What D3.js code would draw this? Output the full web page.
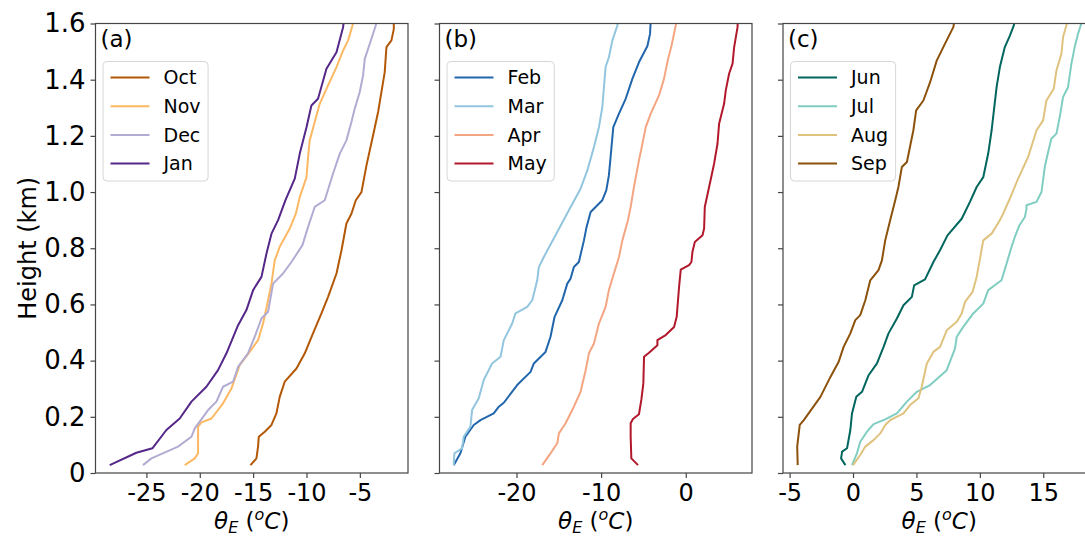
<!DOCTYPE html>
<html>
<head>
<meta charset="utf-8">
<script src="https://cdn.jsdelivr.net/npm/d3@7"></script>
<style>
  body { margin: 0; background: #fff; }
  text { font-family: 'DejaVu Sans', sans-serif; fill: #000; }
</style>
</head>
<body>
<div id="chart"></div>
<script>
// theta_E (degC) vs height (km)
const octProfile = [[-15.25,0.028],[-14.69,0.052],[-14.54,0.094],[-14.47,0.129],[-13.91,0.147],[-13.28,0.171],[-12.82,0.212],[-12.51,0.271],[-12.04,0.325],[-10.94,0.372],[-10.16,0.426],[-9.39,0.497],[-8.6,0.568],[-7.98,0.627],[-7.19,0.71],[-6.72,0.793],[-6.26,0.888],[-5.79,0.923],[-5.38,0.971],[-4.85,1.0],[-4.38,1.095],[-3.76,1.202],[-3.29,1.285],[-2.98,1.356],[-2.67,1.427],[-2.51,1.516],[-2.04,1.54],[-1.82,1.58],[-1.82,1.61]]
const novProfile = [[-21.41,0.028],[-20.47,0.052],[-20.16,0.07],[-20.16,0.165],[-19.84,0.18],[-18.9,0.194],[-17.82,0.248],[-17.03,0.301],[-16.26,0.384],[-15.32,0.431],[-14.54,0.473],[-14.07,0.532],[-13.6,0.615],[-13.28,0.674],[-12.98,0.757],[-12.51,0.805],[-11.57,0.87],[-11.0,0.923],[-10.63,0.982],[-10.0,1.053],[-9.85,1.125],[-9.7,1.184],[-9.23,1.249],[-8.76,1.314],[-7.98,1.38],[-7.19,1.445],[-6.57,1.504],[-6.1,1.54],[-5.69,1.593],[-5.6,1.61]]
const decProfile = [[-25.32,0.028],[-24.53,0.052],[-22.04,0.094],[-20.78,0.129],[-20.47,0.159],[-19.22,0.224],[-18.44,0.254],[-17.82,0.307],[-16.88,0.325],[-16.41,0.378],[-15.48,0.426],[-14.85,0.485],[-14.22,0.55],[-13.6,0.574],[-13.13,0.674],[-12.2,0.71],[-11.41,0.751],[-10.38,0.811],[-9.85,0.876],[-9.23,0.947],[-8.29,0.971],[-7.51,1.066],[-6.88,1.137],[-6.26,1.184],[-5.79,1.249],[-5.48,1.297],[-5.01,1.356],[-4.7,1.415],[-4.54,1.474],[-4.07,1.528],[-3.51,1.593],[-3.45,1.61]]
const janProfile = [[-28.44,0.028],[-25.94,0.072],[-24.44,0.088],[-23.13,0.153],[-21.88,0.194],[-20.78,0.254],[-19.38,0.307],[-18.29,0.366],[-17.5,0.426],[-16.41,0.526],[-15.63,0.58],[-15.0,0.651],[-14.22,0.698],[-13.75,0.781],[-13.28,0.852],[-12.66,0.9],[-11.97,0.971],[-11.1,1.048],[-10.63,1.137],[-10.0,1.231],[-9.54,1.308],[-8.92,1.332],[-8.13,1.439],[-7.19,1.498],[-6.57,1.587],[-6.5,1.61]]

const febProfile = [[-27.42,0.028],[-26.63,0.07],[-26.04,0.129],[-25.05,0.171],[-24.26,0.188],[-22.69,0.212],[-22.09,0.236],[-21.5,0.25],[-19.92,0.313],[-18.34,0.36],[-17.95,0.39],[-16.57,0.431],[-15.98,0.485],[-15.5,0.556],[-14.59,0.615],[-14.0,0.674],[-13.61,0.692],[-13.22,0.733],[-12.63,0.751],[-12.03,0.828],[-11.72,0.876],[-11.24,0.929],[-9.86,0.971],[-9.39,1.006],[-9.08,1.06],[-8.88,1.125],[-8.56,1.231],[-7.89,1.279],[-7.1,1.332],[-6.31,1.403],[-5.53,1.462],[-4.53,1.52],[-4.22,1.563],[-4.14,1.61]]
const marProfile = [[-27.42,0.028],[-27.34,0.07],[-26.43,0.088],[-26.24,0.129],[-25.44,0.165],[-25.25,0.224],[-24.46,0.266],[-23.87,0.331],[-22.88,0.39],[-21.89,0.414],[-21.5,0.473],[-20.51,0.532],[-20.12,0.568],[-18.73,0.591],[-18.14,0.615],[-17.55,0.686],[-17.36,0.733],[-16.77,0.769],[-15.5,0.84],[-13.81,0.935],[-12.43,1.012],[-11.63,1.077],[-10.85,1.16],[-10.26,1.231],[-9.86,1.302],[-9.67,1.373],[-9.47,1.445],[-9.08,1.48],[-8.67,1.54],[-8.08,1.593],[-8.0,1.61]]
const aprProfile = [[-16.96,0.028],[-15.98,0.07],[-15.18,0.106],[-14.99,0.141],[-14.2,0.177],[-13.22,0.236],[-12.43,0.289],[-11.83,0.366],[-11.44,0.426],[-10.85,0.461],[-10.26,0.532],[-9.47,0.591],[-9.08,0.651],[-8.49,0.71],[-7.89,0.769],[-7.49,0.828],[-6.83,0.9],[-6.51,0.947],[-6.12,1.018],[-5.53,1.113],[-5.12,1.172],[-4.73,1.231],[-4.14,1.279],[-3.16,1.344],[-2.57,1.403],[-2.09,1.474],[-1.69,1.52],[-1.18,1.593],[-1.1,1.61]]
const mayProfile = [[-5.64,0.028],[-6.43,0.052],[-6.51,0.129],[-6.51,0.177],[-6.24,0.192],[-5.53,0.209],[-5.25,0.26],[-5.01,0.319],[-4.93,0.414],[-4.34,0.428],[-3.35,0.455],[-3.35,0.473],[-2.37,0.491],[-1.38,0.52],[-1.07,0.556],[-0.79,0.662],[-0.59,0.724],[0.39,0.74],[0.67,0.751],[0.79,0.787],[1.07,0.822],[1.98,0.846],[2.17,0.87],[2.25,0.947],[2.76,1.018],[3.35,1.101],[3.75,1.172],[3.94,1.243],[4.53,1.314],[4.73,1.362],[5.12,1.421],[5.53,1.457],[5.72,1.516],[6.12,1.587],[6.15,1.61]]

const junProfile = [[-0.6,0.028],[-0.94,0.052],[-0.86,0.076],[-0.47,0.088],[-0.21,0.153],[-0.08,0.212],[0.26,0.271],[0.71,0.289],[1.23,0.348],[1.89,0.39],[2.41,0.449],[2.8,0.497],[3.46,0.55],[3.98,0.597],[4.64,0.627],[4.82,0.668],[5.68,0.689],[6.34,0.751],[6.86,0.793],[7.45,0.846],[8.57,0.905],[9.22,0.965],[9.75,1.018],[10.27,1.053],[10.66,1.137],[10.93,1.22],[11.11,1.291],[11.32,1.373],[11.58,1.445],[11.97,1.516],[12.37,1.557],[12.68,1.593],[12.75,1.61]]
const julProfile = [[-0.08,0.028],[0.31,0.07],[0.57,0.111],[1.1,0.147],[1.62,0.174],[2.54,0.191],[3.46,0.212],[4.25,0.254],[5.03,0.289],[6.08,0.313],[7.39,0.366],[8.04,0.443],[8.18,0.485],[8.69,0.52],[9.48,0.568],[10.27,0.603],[10.66,0.651],[11.71,0.686],[12.11,0.746],[12.5,0.805],[12.76,0.84],[13.1,0.88],[13.55,0.911],[13.68,0.941],[13.68,0.953],[14.47,0.965],[14.86,1.0],[15.12,1.089],[15.38,1.142],[15.64,1.19],[16.04,1.208],[16.3,1.267],[16.56,1.338],[16.95,1.373],[17.22,1.457],[17.48,1.516],[17.74,1.563],[18.0,1.6]]
const augProfile = [[0.0,0.028],[0.57,0.064],[0.97,0.094],[1.62,0.117],[2.15,0.141],[2.54,0.171],[2.93,0.188],[3.98,0.212],[4.5,0.242],[5.16,0.266],[5.42,0.307],[5.82,0.39],[6.34,0.431],[6.86,0.449],[7.39,0.508],[8.18,0.538],[8.57,0.568],[8.83,0.609],[9.43,0.645],[9.75,0.698],[10.0,0.76],[10.27,0.828],[10.93,0.852],[11.58,0.9],[11.84,0.923],[12.37,0.977],[13.02,1.048],[13.81,1.125],[14.47,1.22],[14.99,1.255],[15.25,1.326],[15.83,1.368],[16.04,1.433],[16.43,1.492],[16.56,1.551],[16.82,1.593],[16.9,1.61]]
const sepProfile = [[-4.36,0.028],[-4.4,0.094],[-4.2,0.171],[-3.88,0.188],[-3.22,0.23],[-2.57,0.271],[-1.78,0.342],[-1.13,0.396],[-0.74,0.449],[-0.21,0.497],[0.18,0.544],[0.57,0.562],[0.97,0.615],[1.36,0.686],[2.01,0.722],[2.28,0.757],[2.54,0.828],[2.93,0.9],[3.33,0.971],[3.58,1.018],[3.85,1.089],[4.25,1.107],[4.76,1.22],[4.98,1.291],[5.55,1.326],[6.08,1.391],[6.6,1.468],[7.12,1.516],[7.91,1.587],[8.0,1.61]]

const panelLabels = ['(a)', '(b)', '(c)']
const monthsA = ['Oct', 'Nov', 'Dec', 'Jan']
const monthsB = ['Feb', 'Mar', 'Apr', 'May']
const monthsC = ['Jun', 'Jul', 'Aug', 'Sep']
const colorsA = ['#b35806', '#fdb863', '#b2abd2', '#542788']
const colorsB = ['#2166ac', '#92c5de', '#f4a582', '#b2182b']
const colorsC = ['#01665e', '#80cdc1', '#dfc27d', '#8c510a']
const xTicksA = [-25, -20, -15, -10, -5]
const xTicksB = [-20, -10, 0]
const xTicksC = [-5, 0, 5, 10, 15]
const yTicks = [0, 0.2, 0.4, 0.6, 0.8, 1.0, 1.2, 1.4, 1.6]

const panels = [
    { label: panelLabels[0], names: monthsA, colors: colorsA, ticks: xTicksA, series: [octProfile, novProfile, decProfile, janProfile] },
    { label: panelLabels[1], names: monthsB, colors: colorsB, ticks: xTicksB, series: [febProfile, marProfile, aprProfile, mayProfile] },
    { label: panelLabels[2], names: monthsC, colors: colorsC, ticks: xTicksC, series: [junProfile, julProfile, augProfile, sepProfile] }
]

const chartW = 1085
const chartH = 536
const plotTop = 23.5, plotBottom = 473
const panelLeft = [95.5, 439.5, 783]
const panelW = 312.5
const axisColor = '#444'

const svg = d3.select('#chart').append('svg')
    .attr('width', chartW)
    .attr('height', chartH)
    .attr('viewBox', '0 0 ' + chartW + ' ' + chartH)

const y = d3.scaleLinear().domain([0, 1.6]).range([plotBottom, plotTop])

const fmtY = (d) => d === 0 ? '0' : d3.format('.1f')(d)

panels.forEach((p, i) => {
    const left = panelLeft[i]
    // matplotlib style 5% margins on the data range
    const all = p.series.flat().map(d => d[0])
    const [lo, hi] = d3.extent(all)
    const pad = (hi - lo) * 0.05
    const x = d3.scaleLinear().domain([lo - pad, hi + pad]).range([left, left + panelW])

    const clipId = 'clip' + i
    svg.append('clipPath').attr('id', clipId)
        .append('rect')
        .attr('x', left).attr('y', plotTop)
        .attr('width', panelW).attr('height', plotBottom - plotTop)

    const line = d3.line().x(d => x(d[0])).y(d => y(d[1]))

    svg.append('g').attr('clip-path', 'url(#' + clipId + ')')
        .selectAll('path')
        .data(p.series)
        .enter().append('path')
        .attr('d', line)
        .attr('fill', 'none')
        .attr('stroke', (d, k) => p.colors[k])
        .attr('stroke-width', 2)
        .attr('stroke-linejoin', 'round')

    // frame
    svg.append('rect')
        .attr('x', left).attr('y', plotTop)
        .attr('width', panelW).attr('height', plotBottom - plotTop)
        .attr('fill', 'none')
        .attr('stroke', axisColor)
        .attr('stroke-width', 1.2)

    const xAxis = svg.append('g')
        .attr('transform', 'translate(0,' + plotBottom + ')')
        .call(d3.axisBottom(x).tickValues(p.ticks).tickSize(5).tickPadding(6).tickFormat(d3.format('d')))
    xAxis.select('.domain').remove()
    xAxis.selectAll('line').attr('stroke', axisColor).attr('stroke-width', 1.2)
    xAxis.selectAll('text')
        .attr('font-size', 24)
        .attr('font-family', 'DejaVu Sans')
        .attr('fill', '#000')
        .text(d => String(d))

    const yAxis = svg.append('g')
        .attr('transform', 'translate(' + left + ',0)')
        .call(d3.axisLeft(y).tickValues(yTicks).tickSize(5).tickPadding(5).tickFormat(i === 0 ? fmtY : () => ''))
    yAxis.select('.domain').remove()
    yAxis.selectAll('line').attr('stroke', axisColor).attr('stroke-width', 1.2)
    yAxis.selectAll('text')
        .attr('font-size', 26)
        .attr('font-family', 'DejaVu Sans')
        .attr('fill', '#000')

    // panel letter
    svg.append('text')
        .attr('x', left + 5)
        .attr('y', 47)
        .attr('font-size', 23)
        .text(p.label)

    // legend
    const lg = svg.append('g').attr('class', 'legend')
    const box = lg.append('rect')
        .attr('x', left + 7.5)
        .attr('y', 61.5)
        .attr('height', 119.5)
        .attr('rx', 4)
        .attr('fill', '#fff')
        .attr('fill-opacity', 0.8)
        .attr('stroke', '#d6d6d6')
        .attr('stroke-width', 1)

    const items = lg.selectAll('g.item')
        .data(p.names)
        .enter().append('g')
        .attr('class', 'item')
        .attr('transform', (d, k) => 'translate(0,' + (77.5 + k * 28.7) + ')')
    items.append('line')
        .attr('x1', left + 15).attr('x2', left + 54)
        .attr('y1', 0).attr('y2', 0)
        .attr('stroke', (d, k) => p.colors[k])
        .attr('stroke-width', 2)
    const labels = items.append('text')
        .attr('x', left + 68)
        .attr('y', 0)
        .attr('dy', '0.36em')
        .attr('font-size', 19)
        .text(d => d)
    let maxW = 0
    labels.each(function () { maxW = Math.max(maxW, this.getComputedTextLength()) })
    box.attr('width', 68 + maxW)

    // x label: theta_E (oC)
    const xl = svg.append('text')
        .attr('x', left + panelW / 2)
        .attr('y', 529)
        .attr('text-anchor', 'middle')
        .attr('font-size', 23)
    xl.append('tspan').attr('font-style', 'italic').text('θ')
    xl.append('tspan').attr('font-style', 'italic').attr('font-size', 16).attr('dy', 4).text('E')
    xl.append('tspan').attr('dy', -4).text(' (')
    xl.append('tspan').attr('font-style', 'italic').attr('font-size', 16).attr('dy', -9).text('o')
    xl.append('tspan').attr('font-style', 'italic').attr('dy', 9).text('C')
    xl.append('tspan').text(')')
})

svg.append('text')
    .attr('transform', 'translate(28,' + ((plotTop + plotBottom) / 2) + ') rotate(-90)')
    .attr('text-anchor', 'middle')
    .attr('dy', '0.35em')
    .attr('font-size', 24)
    .text('Height (km)')
</script>
</body>
</html>
